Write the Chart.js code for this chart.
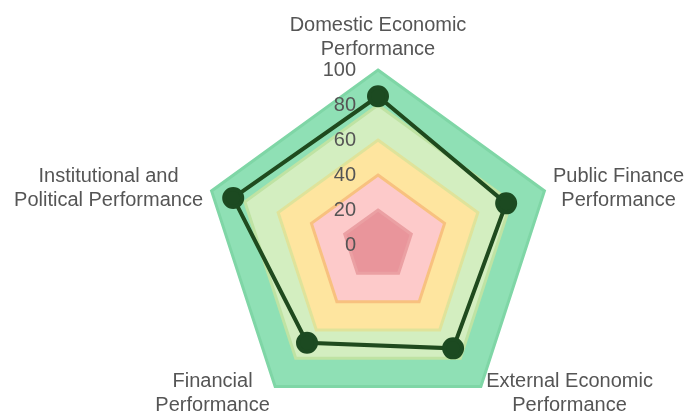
<!DOCTYPE html>
<html>
<head>
<meta charset="utf-8">
<script src="https://cdn.jsdelivr.net/npm/chart.js@4.4.1/dist/chart.umd.min.js"></script>
<style>
  html, body { margin: 0; padding: 0; background: #fff; overflow: hidden; }
  #wrap { width: 690px; height: 420px; }
</style>
</head>
<body>
<div id="wrap"><canvas id="radar" width="690" height="420"></canvas></div>
<script>
// axis titles (one entry per line)
const categories = [
  ['Domestic Economic', 'Performance'],
  ['Public Finance', 'Performance'],
  ['External Economic', 'Performance'],
  ['Financial', 'Performance'],
  ['Institutional and', 'Political Performance']
];
const scores = [85, 77, 73, 69, 87];
const bandLevels = [20, 40, 60, 80, 100];
const bandFills = ['#e9959b', '#fdcaca', '#fee59f', '#d3eec0', '#8fe0b5'];
const bandBorders = ['#eba0a3', '#f8c17f', '#dfe39a', '#bfe3a3', '#7fd6a6'];
const tickValues = [0, 20, 40, 60, 80, 100];

const FONT = '20px "Liberation Sans", Arial, sans-serif';

// tick numbers + axis titles, placed with the radial scale
const radarText = {
    id: 'radarText',
    afterDraw(chart) {
        const scale = chart.scales.r;
        const ctx = chart.ctx;
        ctx.save();
        ctx.fillStyle = '#555';
        ctx.font = FONT;
        ctx.textBaseline = 'middle';

        ctx.textAlign = 'right';
        tickValues.forEach(v => {
            const p = scale.getPointPositionForValue(0, v);
            ctx.fillText(String(v), scale.xCenter - 22, p.y);
        });

        ctx.textAlign = 'center';
        const lineH = 24;
        categories.forEach((lines, i) => {
            const p = scale.getPointPosition(i, scale.drawingArea + 9);
            const dx = p.x - scale.xCenter;
            const w = Math.max(...lines.map(l => ctx.measureText(l).width));
            const h = lines.length * lineH;
            let cx = p.x;
            if (dx > 1) cx = p.x + w / 2;
            else if (dx < -1) cx = p.x - w / 2;
            let top = Math.abs(dx) <= 1 ? p.y - h : p.y - h / 2;
            lines.forEach((l, j) => ctx.fillText(l, cx, top + lineH * (j + 0.5)));
        });
        ctx.restore();
    }
};

const datasets = [{
    label: 'Score',
    data: scores,
    borderColor: '#1f4a1e',
    borderWidth: 4,
    pointRadius: 9,
    pointBackgroundColor: '#1c4a21',
    pointBorderColor: '#1c4a21',
    fill: false,
    clip: false
}];
bandLevels.forEach((lvl, i) => {
    datasets.push({
        label: 'Band ' + lvl,
        data: categories.map(() => lvl),
        backgroundColor: bandFills[i],
        borderColor: bandBorders[i],
        borderWidth: 3,
        pointRadius: 0,
        fill: 'origin',
        clip: false
    });
});

new Chart(document.getElementById('radar').getContext('2d'), {
    type: 'radar',
    data: { labels: categories, datasets },
    options: {
        responsive: false,
        animation: false,
        layout: { padding: { left: 203, right: 137, top: 70, bottom: 0 } },
        plugins: {
            legend: { display: false },
            tooltip: { enabled: false }
        },
        scales: {
            r: {
                min: 0,
                max: 100,
                ticks: { display: false, stepSize: 20 },
                grid: { display: false },
                angleLines: { display: false },
                pointLabels: { display: false }
            }
        }
    },
    plugins: [radarText]
});
</script>
</body>
</html>
